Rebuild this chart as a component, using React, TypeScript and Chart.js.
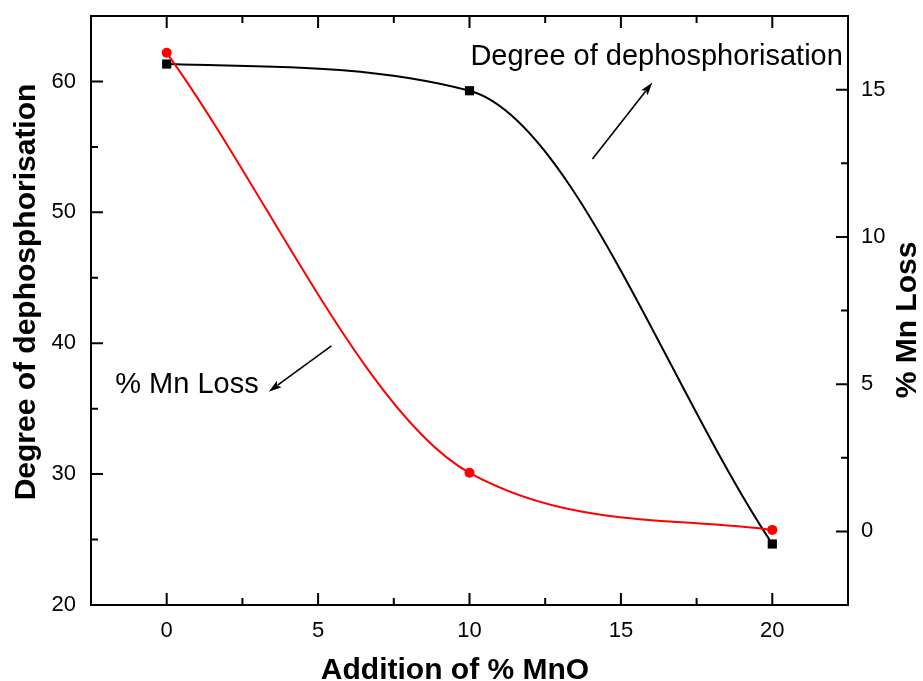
import React, { useEffect, useRef } from 'react';
import { Chart, registerables } from 'chart.js';

Chart.register(...registerables);

// ---- data ----
const mnoAddition = [0, 10, 20];
const dephosphorisation = [61.33, 59.29, 24.66];
const mnLoss = [16.25, 1.99, 0.05];

const xTickValues = [0, 5, 10, 15, 20];
const leftTickValues = [20, 30, 40, 50, 60];
const rightTickValues = [0, 5, 10, 15];

const xTitle = 'Addition of % MnO';
const leftTitle = 'Degree of dephosphorisation';
const rightTitle = '% Mn Loss';
const dephosLabel = 'Degree of dephosphorisation';
const mnLabel = '% Mn Loss';

// annotation anchors in data units (x, left-axis y)
const dephosLabelAt = { x: 10.03, y: 61.28 };
const dephosArrowFrom = { x: 14.06, y: 54.07 };
const dephosArrowTo = { x: 16.04, y: 59.92 };
const mnLabelAt = { x: -1.7, y: 36.2 };
const mnArrowFrom = { x: 5.44, y: 39.8 };
const mnArrowTo = { x: 3.37, y: 36.3 };

const FONT = '"Liberation Sans", Arial, Helvetica, sans-serif';

function drawArrow(ctx: CanvasRenderingContext2D, x1: number, y1: number, x2: number, y2: number) {
  const ang = Math.atan2(y2 - y1, x2 - x1);
  const len = 13;
  const hw = 4;
  ctx.beginPath();
  ctx.moveTo(x1, y1);
  ctx.lineTo(x2 - Math.cos(ang) * (len - 2), y2 - Math.sin(ang) * (len - 2));
  ctx.lineWidth = 1.6;
  ctx.stroke();
  ctx.beginPath();
  ctx.moveTo(x2, y2);
  ctx.lineTo(x2 - Math.cos(ang) * len - Math.sin(ang) * hw, y2 - Math.sin(ang) * len + Math.cos(ang) * hw);
  ctx.lineTo(x2 - Math.cos(ang) * len * 0.8, y2 - Math.sin(ang) * len * 0.8);
  ctx.lineTo(x2 - Math.cos(ang) * len + Math.sin(ang) * hw, y2 - Math.sin(ang) * len - Math.cos(ang) * hw);
  ctx.closePath();
  ctx.fill();
}

const framePlugin = {
  id: 'frameAndText',
  afterDraw(chart: any) {
    const ctx: CanvasRenderingContext2D = chart.ctx;
    const { left, right, top, bottom } = chart.chartArea;
    const sx = chart.scales.x;
    const sy = chart.scales.y;
    const sy2 = chart.scales.y2;
    ctx.save();
    ctx.strokeStyle = '#000';
    ctx.fillStyle = '#000';
    ctx.lineWidth = 2;
    ctx.strokeRect(left, top, right - left, bottom - top);

    const majorLen = 12;
    const minorLen = 7;
    ctx.beginPath();
    for (let v = sx.min; v <= sx.max + 1e-9; v += 2.5) {
      const px = sx.getPixelForValue(v);
      if (px < left + 1.5 || px > right - 1.5) continue;
      const len = Math.abs(v % 5) < 1e-6 ? majorLen : minorLen;
      ctx.moveTo(px, bottom);
      ctx.lineTo(px, bottom - len);
      ctx.moveTo(px, top);
      ctx.lineTo(px, top + len);
    }
    for (let v = sy.min; v <= sy.max + 1e-9; v += 5) {
      const py = sy.getPixelForValue(v);
      if (py < top + 1.5 || py > bottom - 1.5) continue;
      const len = Math.abs(v % 10) < 1e-6 ? majorLen : minorLen;
      ctx.moveTo(left, py);
      ctx.lineTo(left + len, py);
    }
    for (let v = sy2.min; v <= sy2.max + 1e-9; v += 2.5) {
      const py = sy2.getPixelForValue(v);
      if (py < top + 1.5 || py > bottom - 1.5) continue;
      const len = Math.abs(v % 5) < 1e-6 ? majorLen : minorLen;
      ctx.moveTo(right, py);
      ctx.lineTo(right - len, py);
    }
    ctx.lineWidth = 2;
    ctx.stroke();

    // axis titles
    ctx.font = `bold 30px ${FONT}`;
    ctx.textAlign = 'center';
    ctx.textBaseline = 'alphabetic';
    ctx.fillText(xTitle, 455, 679);

    ctx.save();
    ctx.translate(27, 292);
    ctx.rotate(-Math.PI / 2);
    ctx.textBaseline = 'middle';
    ctx.fillText(leftTitle, 0, 0);
    ctx.restore();

    ctx.save();
    ctx.translate(908, 320);
    ctx.rotate(-Math.PI / 2);
    ctx.textBaseline = 'middle';
    ctx.fillText(rightTitle, 0, 0);
    ctx.restore();

    // annotations
    ctx.font = `29px ${FONT}`;
    ctx.textAlign = 'left';
    ctx.textBaseline = 'alphabetic';
    ctx.fillText(dephosLabel, sx.getPixelForValue(dephosLabelAt.x), sy.getPixelForValue(dephosLabelAt.y));
    ctx.fillText(mnLabel, sx.getPixelForValue(mnLabelAt.x), sy.getPixelForValue(mnLabelAt.y));

    drawArrow(
      ctx,
      sx.getPixelForValue(dephosArrowFrom.x),
      sy.getPixelForValue(dephosArrowFrom.y),
      sx.getPixelForValue(dephosArrowTo.x),
      sy.getPixelForValue(dephosArrowTo.y)
    );
    drawArrow(
      ctx,
      sx.getPixelForValue(mnArrowFrom.x),
      sy.getPixelForValue(mnArrowFrom.y),
      sx.getPixelForValue(mnArrowTo.x),
      sy.getPixelForValue(mnArrowTo.y)
    );
    ctx.restore();
  },
};

export default function App() {
  const canvasRef = useRef<HTMLCanvasElement | null>(null);

  useEffect(() => {
    const canvas = canvasRef.current;
    if (!canvas) return;
    const tickFont = { family: FONT, size: 22 };
    const chart = new Chart(canvas, {
      type: 'line',
      data: {
        datasets: [
          {
            label: dephosLabel,
            data: mnoAddition.map((x, i) => ({ x, y: dephosphorisation[i] })),
            yAxisID: 'y',
            borderColor: '#000000',
            backgroundColor: '#000000',
            borderWidth: 2,
            pointStyle: 'rect',
            pointRadius: 6.5,
            pointBorderWidth: 0,
            cubicInterpolationMode: 'monotone',
            fill: false,
            order: 2,
          },
          {
            label: mnLabel,
            data: mnoAddition.map((x, i) => ({ x, y: mnLoss[i] })),
            yAxisID: 'y2',
            borderColor: '#ff0000',
            backgroundColor: '#ff0000',
            borderWidth: 2,
            pointStyle: 'circle',
            pointRadius: 5,
            pointBorderWidth: 0,
            cubicInterpolationMode: 'monotone',
            fill: false,
            order: 1,
          },
        ],
      },
      options: {
        animation: false,
        responsive: true,
        maintainAspectRatio: false,
        layout: { padding: { top: 16, left: 0, right: 0, bottom: 0 } },
        plugins: {
          legend: { display: false },
          tooltip: { enabled: false },
          title: { display: false },
        },
        scales: {
          x: {
            type: 'linear',
            position: 'bottom',
            min: -2.5,
            max: 22.5,
            afterBuildTicks: (s: any) => {
              s.ticks = xTickValues.map((value) => ({ value }));
            },
            afterFit: (s: any) => {
              s.height = 76;
              s.paddingLeft = 0;
              s.paddingRight = 0;
            },
            ticks: { font: tickFont, color: '#000', padding: 13, maxRotation: 0, autoSkip: false },
            grid: { display: false, drawTicks: false },
            border: { display: false },
          },
          y: {
            type: 'linear',
            position: 'left',
            min: 20,
            max: 65,
            afterBuildTicks: (s: any) => {
              s.ticks = leftTickValues.map((value) => ({ value }));
            },
            afterFit: (s: any) => {
              s.width = 91;
              s.paddingTop = 0;
              s.paddingBottom = 0;
            },
            ticks: { font: tickFont, color: '#000', padding: 15, autoSkip: false },
            grid: { display: false, drawTicks: false },
            border: { display: false },
          },
          y2: {
            type: 'linear',
            position: 'right',
            min: -2.5,
            max: 17.5,
            afterBuildTicks: (s: any) => {
              s.ticks = rightTickValues.map((value) => ({ value }));
            },
            afterFit: (s: any) => {
              s.width = 75;
              s.paddingTop = 0;
              s.paddingBottom = 0;
            },
            ticks: { font: tickFont, color: '#000', padding: 13, autoSkip: false },
            grid: { display: false, drawTicks: false },
            border: { display: false },
          },
        },
      },
      plugins: [framePlugin],
    } as any);
    return () => chart.destroy();
  }, []);

  return (
    <div style={{ position: 'absolute', left: 0, top: 0, width: 923, height: 681, background: '#fff' }}>
      <canvas ref={canvasRef} />
    </div>
  );
}
